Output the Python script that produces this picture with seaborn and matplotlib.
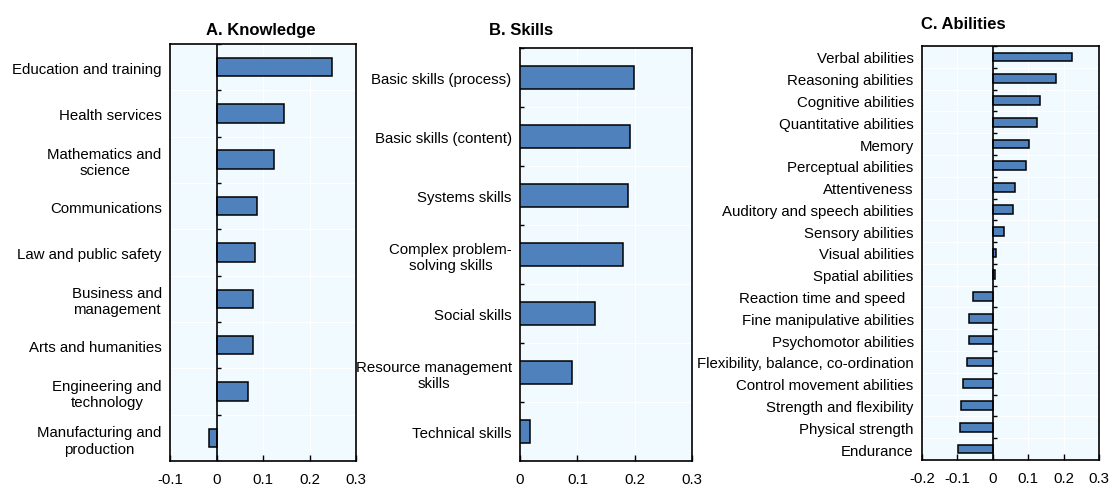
import matplotlib
matplotlib.use('Agg')
import matplotlib.pyplot as plt
import seaborn as sns
import pandas as pd
from matplotlib.ticker import FuncFormatter, FixedLocator

knowledge = ['Education and training', 'Health services', 'Mathematics and\nscience',
             'Communications', 'Law and public safety', 'Business and\nmanagement',
             'Arts and humanities', 'Engineering and\ntechnology', 'Manufacturing and\nproduction']
knowledge_vals = [0.248, 0.146, 0.123, 0.087, 0.083, 0.079, 0.079, 0.067, -0.016]

skills = ['Basic skills (process)', 'Basic skills (content)', 'Systems skills',
          'Complex problem-\nsolving skills', 'Social skills', 'Resource management\nskills',
          'Technical skills']
skills_vals = [0.198, 0.192, 0.189, 0.179, 0.131, 0.090, 0.017]

abilities = ['Verbal abilities', 'Reasoning abilities', 'Cognitive abilities',
             'Quantitative abilities', 'Memory', 'Perceptual abilities', 'Attentiveness',
             'Auditory and speech abilities', 'Sensory abilities', 'Visual abilities',
             'Spatial abilities', 'Reaction time and speed  ', 'Fine manipulative abilities',
             'Psychomotor abilities', 'Flexibility, balance, co-ordination',
             'Control movement abilities', 'Strength and flexibility', 'Physical strength',
             'Endurance']
abilities_vals = [0.223, 0.177, 0.134, 0.124, 0.103, 0.093, 0.063, 0.057, 0.032, 0.010,
                  0.006, -0.057, -0.068, -0.068, -0.073, -0.084, -0.089, -0.094, -0.099]

sns.set_style('white')
plt.rcParams['font.family'] = ['Liberation Sans', 'DejaVu Sans']
plt.rcParams['axes.unicode_minus'] = False
plt.rcParams['text.color'] = 'black'
plt.rcParams['xtick.color'] = 'black'
plt.rcParams['ytick.color'] = 'black'
plt.rcParams['xtick.labelcolor'] = 'black'
plt.rcParams['ytick.labelcolor'] = 'black'

bar_color = '#4F81BD'
bg_color = '#F0FAFF'

fig = plt.figure(figsize=(11.1, 4.89), dpi=100)

panels = [
    # labels, values, xlim, xticks, axes rect, title, title pos
    (knowledge, knowledge_vals, (-0.1, 0.3), [-0.1, 0, 0.1, 0.2, 0.3],
     [0.1532, 0.0552, 0.1676, 0.853], 'A. Knowledge', (0.235, 0.937)),
    (skills, skills_vals, (0, 0.3), [0, 0.1, 0.2, 0.3],
     [0.4685, 0.0552, 0.155, 0.8446], 'B. Skills', (0.469, 0.937)),
    (abilities, abilities_vals, (-0.2, 0.3), [-0.2, -0.1, 0, 0.1, 0.2, 0.3],
     [0.8306, 0.0573, 0.1597, 0.8466], 'C. Abilities', (0.8675, 0.949)),
]

for labels, vals, xlim, xticks, rect, title, tpos in panels:
    ax = fig.add_axes(rect)
    df = pd.DataFrame({'item': labels, 'value': vals})
    sns.barplot(data=df, y='item', x='value', orient='h', color=bar_color,
                saturation=1, edgecolor='black', linewidth=1.1, width=0.4, ax=ax, zorder=3)
    n = len(labels)
    ax.set_xlim(*xlim)
    ax.set_ylim(n - 0.5, -0.5)
    ax.set_facecolor(bg_color)
    ax.set_xlabel('')
    ax.set_ylabel('')

    ax.set_xticks(xticks)
    ax.xaxis.set_major_formatter(FuncFormatter(lambda v, p: f'{v:g}'))
    ax.tick_params(axis='x', direction='in', length=4, width=1, labelsize=10.8, pad=8,
                   bottom=True, color='black', labelcolor='black')
    ax.tick_params(axis='y', length=0, labelsize=10.8, pad=6, labelcolor='black')
    for t in ax.get_yticklabels():
        t.set_multialignment('center')

    # white grid lines
    bounds = [i + 0.5 for i in range(-1, n)]
    ax.yaxis.set_minor_locator(FixedLocator(bounds))
    ax.grid(True, axis='x', which='major', color='white', linewidth=1)
    ax.grid(True, axis='y', which='minor', color='white', linewidth=1)
    ax.tick_params(axis='y', which='minor', length=0)
    ax.set_axisbelow(True)

    for s in ax.spines.values():
        s.set_visible(True)
        s.set_color('black')
        s.set_linewidth(1.2)

    # zero line with small ticks at category boundaries
    tick_len = 4 / (rect[2] * 1110) * (xlim[1] - xlim[0])
    if xlim[0] < 0:
        ax.axvline(0, color='black', linewidth=1.2, zorder=4)
    ax.hlines(bounds, 0, tick_len, color='black', linewidth=1, zorder=4)

    fig.text(tpos[0], tpos[1], title, ha='center', va='center', fontsize=12,
             fontweight='bold', color='black')

fig.savefig('out.png', dpi=100)
